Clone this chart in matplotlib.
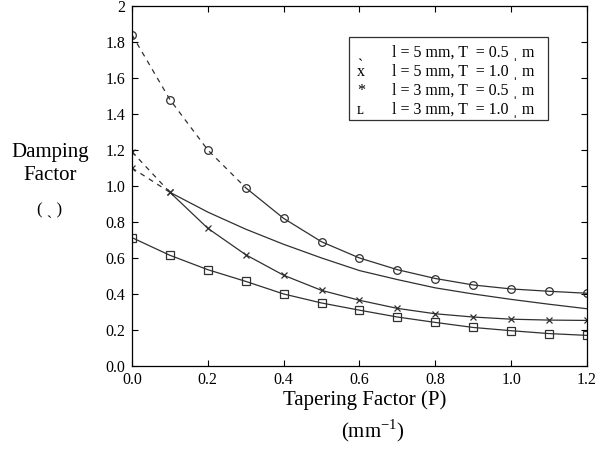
import numpy as np
import matplotlib
matplotlib.use("Agg")
import matplotlib.pyplot as plt
from matplotlib.patches import Rectangle

plt.rcParams['font.family'] = ['Liberation Serif', 'DejaVu Serif']

# tapering factor P (mm^-1)
p = [0.0, 0.1, 0.2, 0.3, 0.4, 0.5, 0.6, 0.7, 0.8, 0.9, 1.0, 1.1, 1.2]

# damping factor
l5_t05 = [1.84, 1.48, 1.20, 0.99, 0.82, 0.69, 0.60, 0.535, 0.486, 0.45, 0.428, 0.415, 0.404]
l5_t10 = [1.10, 0.965, 0.855, 0.76, 0.676, 0.60, 0.53, 0.48, 0.434, 0.40, 0.37, 0.343, 0.318]
l3_t05 = [1.19, 0.965, 0.765, 0.618, 0.504, 0.42, 0.365, 0.32, 0.29, 0.272, 0.26, 0.255, 0.253]
l3_t10 = [0.713, 0.615, 0.535, 0.47, 0.40, 0.35, 0.31, 0.272, 0.242, 0.214, 0.196, 0.18, 0.17]

# how many leading points are joined by a dashed line
dash_upto = {'l5_t05': 3, 'l5_t10': 1, 'l3_t05': 1, 'l3_t10': 0}

legend_syms = ['\u02ce', 'x', '*', '\u029f']
legend_labels = ['l = 5 mm, T  = 0.5 \u02cc m',
                 'l = 5 mm, T  = 1.0 \u02cc m',
                 'l = 3 mm, T  = 0.5 \u02cc m',
                 'l = 3 mm, T  = 1.0 \u02cc m']

yticks = [0.0, 0.2, 0.4, 0.6, 0.8, 1.0, 1.2, 1.4, 1.6, 1.8, 2.0]
ytick_labels = ['0.0', '0.2', '0.4', '0.6', '0.8', '1.0', '1.2', '1.4', '1.6', '1.8', '2']
xticks = [0.0, 0.2, 0.4, 0.6, 0.8, 1.0, 1.2]

fig = plt.figure(figsize=(6.09, 4.5), dpi=100)
ax = fig.add_axes([0.2167, 0.1867, 0.7472, 0.80])

col = '#303030'
series = [('l5_t05', l5_t05, 'o', None), ('l5_t10', l5_t10, 'x', [0, 1]),
          ('l3_t05', l3_t05, 'x', None), ('l3_t10', l3_t10, 's', None)]
for key, y, mk, every in series:
    k = dash_upto[key]
    if k > 0:
        ax.plot(p[:k + 1], y[:k + 1], color=col, lw=0.9, ls=(0, (4, 4)))
    ax.plot(p[k:], y[k:], color=col, lw=0.9)
    idx = every if every is not None else range(len(p))
    ax.plot([p[i] for i in idx], [y[i] for i in idx], ls='none', marker=mk,
            ms=5.5 if mk != 'x' else 4, mfc='none', mec=col, mew=0.9)

ax.set_xlim(0, 1.2)
ax.set_ylim(0, 2)
ax.set_xticks(xticks)
ax.set_xticklabels(['%.1f' % v for v in xticks])
ax.set_yticks(yticks)
ax.set_yticklabels(ytick_labels)
ax.tick_params(direction='in', length=4, width=0.8, labelsize=11.5,
               top=True, right=True, pad=5)
ax.tick_params(axis='x', pad=4)
for s in ax.spines.values():
    s.set_linewidth(0.9)

# legend box drawn by hand (symbols are text characters)
ax.add_patch(Rectangle((0.477, 0.684), 0.437, 0.23, transform=ax.transAxes,
                       fill=False, lw=0.9, ec='#303030', zorder=5))
for i in range(4):
    yy = 0.869 - i * 0.053
    ax.text(0.494, yy, legend_syms[i], transform=ax.transAxes, fontsize=11.5,
            va='center', ha='left')
    ax.text(0.571, yy, legend_labels[i], transform=ax.transAxes, fontsize=11.5,
            va='center', ha='left')

fig.text(0.082, 0.636, 'Damping\nFactor', fontsize=15, ha='center', va='center',
         linespacing=1.25)
fig.text(0.082, 0.533, '( \u02ce )', fontsize=12, ha='center', va='center')
fig.text(0.599, 0.111, 'Tapering Factor (P)', fontsize=15, ha='center', va='center')
fig.text(0.612, 0.043, '(mm$^{\\mathregular{-1}}$)', fontsize=15, ha='center', va='center')

fig.savefig('out.png', dpi=100)
